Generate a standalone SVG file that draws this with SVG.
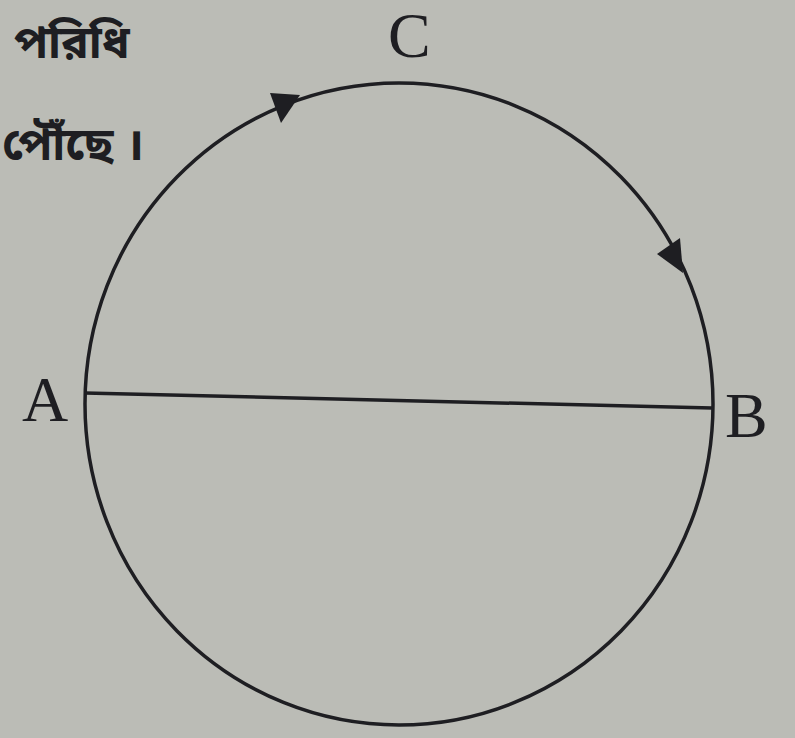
<svg xmlns="http://www.w3.org/2000/svg" width="795" height="738" viewBox="0 0 795 738">
<style>
.ln{fill:none;stroke:#1e1e22;stroke-width:3.5}
.lbl{font-family:"Liberation Serif","Times New Roman",serif;font-size:64px;fill:#1e1e22}
.bn{font-family:"Noto Sans Bengali","Noto Serif Bengali","Noto Sans",sans-serif;font-size:46px;fill:#1e1e22;font-weight:bold}
.ah{fill:#1e1e22}
</style>
<rect width="795" height="738" fill="#bbbcb6"/>
<g id="text-top">
<text class="bn" x="14" y="58">পরিধি</text>
<text class="bn" x="2" y="160">পৌঁছে ।</text>
</g>
<g id="circle">
<ellipse class="ln" cx="399" cy="404" rx="314" ry="321"/>
</g>
<g id="connectors">
<line class="ln" x1="85" y1="393" x2="712" y2="408"/>
<polygon class="ah" points="300,95 270,93 281,123"/>
<polygon class="ah" points="683,273 657,254 680,238"/>
</g>
<g id="label-C"><text class="lbl" x="388" y="57">C</text></g>
<g id="label-A"><text class="lbl" x="22" y="421">A</text></g>
<g id="label-B"><text class="lbl" x="725" y="437">B</text></g>
</svg>
